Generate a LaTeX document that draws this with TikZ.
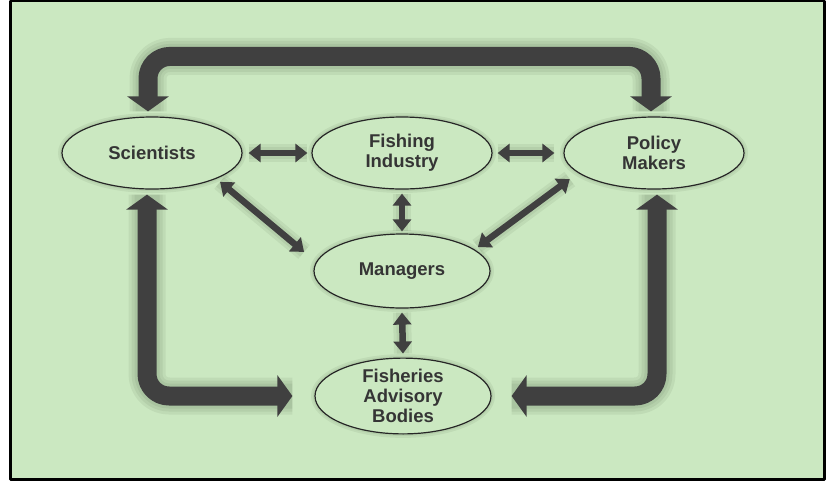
\documentclass[tikz,border=0pt]{standalone}
\usepackage{fontspec}
\setmainfont{Liberation Sans}
\usetikzlibrary{shapes.geometric,arrows.meta}
\definecolor{bggreen}{HTML}{CBE8C1}
\definecolor{arrowgray}{HTML}{404040}
\definecolor{textgray}{HTML}{353535}
\definecolor{glowgray}{HTML}{26381F}
\tikzset{
  glow/.style={preaction={draw=glowgray,-,line width=#1,opacity=.07,line join=round,line cap=butt}},
  actor/.style={ellipse, draw=black!85, line width=1.2pt, fill=bggreen, minimum width=180pt,
    minimum height=72pt, inner sep=0pt, align=center, text=textgray,
    font=\fontsize{18.5}{20}\selectfont\bfseries, glow=8pt, glow=4pt},
  bigarrow/.style={draw=arrowgray, line width=19pt, rounded corners=22pt,
    {Triangle[width=41pt,length=15pt]}-{Triangle[width=41pt,length=15pt]},
    glow=37pt, glow=31pt, glow=25pt},
  smallarrow/.style={draw=arrowgray, line width=6.5pt,
    {Triangle[width=18pt,length=12pt]}-{Triangle[width=18pt,length=12pt]},
    glow=18pt, glow=12pt}
}
\begin{document}
\begin{tikzpicture}[x=1pt, y=-1pt, line join=round]
\useasboundingbox (0,0) rectangle (826,483);
\fill[white] (0,0) rectangle (826,483);
\filldraw[fill=bggreen, draw=black, line width=2.5pt] (10.5,1.2) rectangle (824.5,479.5);
% the five groups
\node[actor] (sci) at (152,153) {Scientists};
\node[actor] (fish) at (402,153) {Fishing\\Industry};
\node[actor] (pol) at (654,153) {Policy\\Makers};
\node[actor, minimum width=176pt, minimum height=74pt] (man) at (402,271) {Managers};
\node[actor, minimum width=176pt, minimum height=74pt] (fab) at (403,396) {Fisheries\\Advisory\\Bodies};
% short links
\draw[smallarrow] ([xshift=6pt]sci.east) -- ([xshift=-4pt]fish.west);
\draw[smallarrow] ([xshift=5pt]fish.east) -- ([xshift=-9pt]pol.west);
\draw[smallarrow] ([yshift=-4pt]fish.south) -- ([yshift=2pt]man.north);
\draw[smallarrow] ([yshift=-4pt]man.south) -- ([yshift=4pt]fab.north);
\draw[smallarrow] ([shift={(4,3)}]sci.-22) -- ([shift={(-23,1)}]man.165);
\draw[smallarrow] ([shift={(-12,4)}]pol.197) -- ([shift={(4,-2)}]man.17);
% long links
\draw[bigarrow] ([shift={(-4,-5)}]sci.north) -- ++(0,-55) -| ([shift={(-3,-5)}]pol.north);
\draw[bigarrow] ([shift={(-5,5)}]sci.south) |- ([xshift=-22pt]fab.west);
\draw[bigarrow] ([shift={(3,5)}]pol.south) |- ([xshift=20pt]fab.east);
\end{tikzpicture}
\end{document}
